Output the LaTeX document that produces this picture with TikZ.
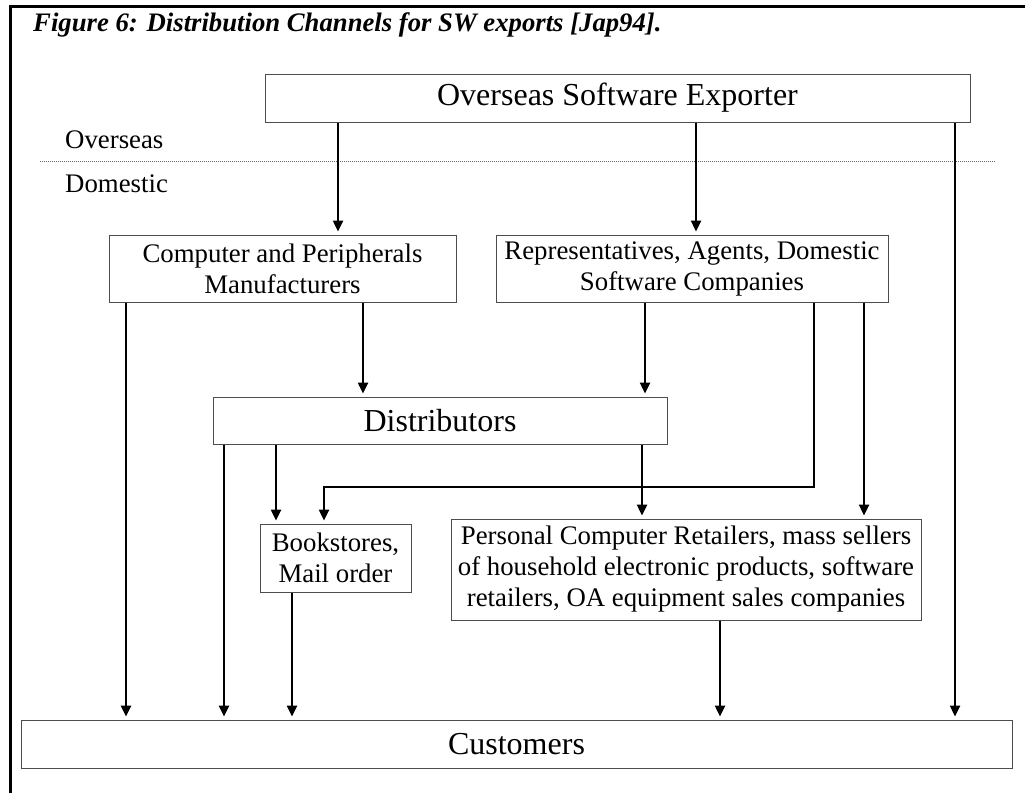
\documentclass[tikz,border=0pt]{standalone}
\usepackage{fontspec}
\setmainfont{Liberation Serif}
\usetikzlibrary{arrows.meta}
\tikzset{
  box/.style={draw=black!70, line width=1pt, rectangle, inner sep=0pt, align=center},
  bigtext/.style={font=\fontsize{32}{37}\selectfont},
  smalltext/.style={font=\fontsize{26.8}{31}\selectfont},
  arr/.style={line width=2.4pt, shorten >=3pt, -{Triangle[length=11pt,width=10pt]}},
}
\begin{document}
\begin{tikzpicture}[x=1pt,y=-1pt]
\useasboundingbox (0,0) rectangle (1025,793);
% frame
\draw[line width=3pt] (10,793) -- (10,6.5) -- (1025,6.5);
% title
\node[anchor=base west, inner sep=0pt, font=\fontsize{26.7}{31}\selectfont\bfseries\itshape] (title) at (33,31) {Figure 6: Distribution Channels for SW exports [Jap94].};
% region labels and divider
\node[anchor=base west, inner sep=0pt, smalltext] (ovs) at (65,148) {Overseas};
\node[anchor=base west, inner sep=0pt, smalltext] (dom) at (65,192) {Domestic};
\draw[black!60, line width=0.8pt, dash pattern=on 1pt off 1pt] (40,161) coordinate (dl) -- (995,161) coordinate (dr);
% boxes
\node[box, bigtext, minimum width=705pt, minimum height=48pt] (exp) at (617.5,98) {Overseas Software Exporter};
\node[box, smalltext, minimum width=347pt, minimum height=67pt] (cpm) at (282.5,268.5) {Computer and Peripherals\\Manufacturers};
\node[box, smalltext, minimum width=392pt, minimum height=67pt] (rep) at (692,268.5) {Representatives, Agents, Domestic\\Software Companies};
\node[box, bigtext, minimum width=454pt, minimum height=47pt] (dist) at (440,420.5) {Distributors};
\node[box, smalltext, minimum width=151pt, minimum height=68pt] (book) at (335.5,558) {Bookstores,\\Mail order};
\node[box, smalltext, minimum width=470pt, minimum height=101pt] (pc) at (686,569.5) {Personal Computer Retailers, mass sellers\\of household electronic products, software\\retailers, OA equipment sales companies};
\node[box, bigtext, minimum width=991pt, minimum height=48pt] (cust) at (516.5,744) {Customers};
% column coordinates
\coordinate (cA) at (126,0);
\coordinate (cB) at (224,0);
\coordinate (cC) at (276,0);
\coordinate (cD) at (292,0);
\coordinate (cE) at (324,0);
\coordinate (cF) at (338,0);
\coordinate (cG) at (363,0);
\coordinate (cH) at (642,0);
\coordinate (cH2) at (645,0);
\coordinate (cI) at (696,0);
\coordinate (cJ) at (720,0);
\coordinate (cK) at (814,0);
\coordinate (cL) at (864,0);
\coordinate (cM) at (955,0);
\coordinate (elb) at (0,487);
% connectors
\draw[arr] (exp.south -| cF) -- (cpm.north -| cF);
\draw[arr] (exp.south -| cI) -- (rep.north -| cI);
\draw[arr] (exp.south -| cM) -- (cust.north -| cM);
\draw[arr] (cpm.south -| cA) -- (cust.north -| cA);
\draw[arr] (cpm.south -| cG) -- (dist.north -| cG);
\draw[arr] (rep.south -| cH2) -- (dist.north -| cH2);
\draw[arr, line join=miter] (rep.south -| cK) -- (cK |- elb) -| (book.north -| cE);
\draw[arr] (rep.south -| cL) -- (pc.north -| cL);
\draw[arr] (dist.south -| cB) -- (cust.north -| cB);
\draw[arr] (dist.south -| cC) -- (book.north -| cC);
\draw[arr] (dist.south -| cH) -- (pc.north -| cH);
\draw[arr] (book.south -| cD) -- (cust.north -| cD);
\draw[arr] (pc.south -| cJ) -- (cust.north -| cJ);
\end{tikzpicture}
\end{document}
